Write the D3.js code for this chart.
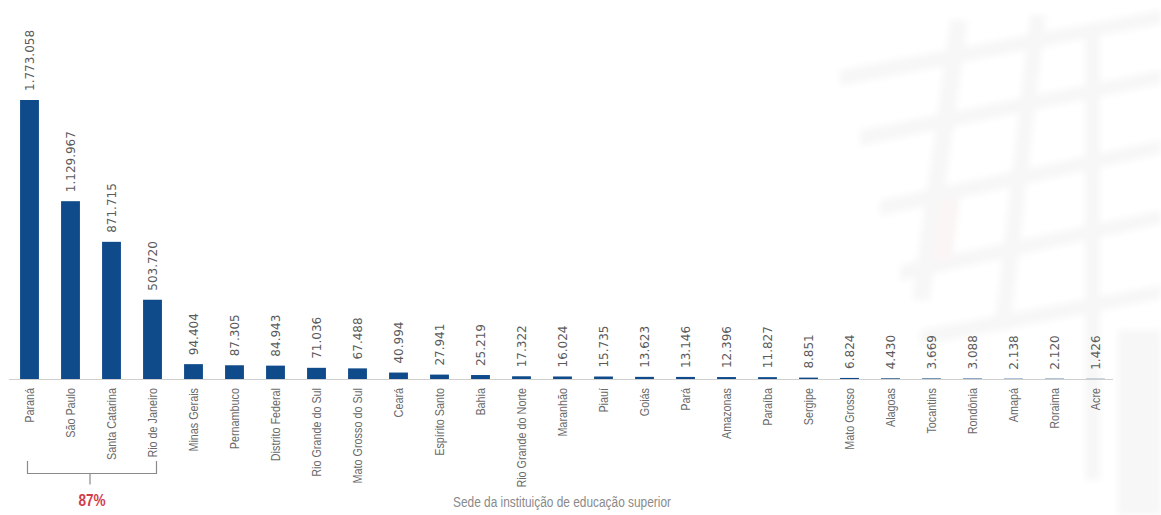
<!DOCTYPE html>
<html lang="pt-BR">
<head>
<meta charset="utf-8">
<script src="https://cdn.jsdelivr.net/npm/d3@7"></script>
<style>
  html, body { margin: 0; padding: 0; background: #ffffff; }
  svg { display: block; }
</style>
</head>
<body>
<svg id="chart" width="1161" height="515"></svg>
<script>
// Unidades da federação (sede da instituição), em ordem decrescente
const categories = [
  "Paraná", "São Paulo", "Santa Catarina", "Rio de Janeiro", "Minas Gerais",
  "Pernambuco", "Distrito Federal", "Rio Grande do Sul", "Mato Grosso do Sul",
  "Ceará", "Espírito Santo", "Bahia", "Rio Grande do Norte", "Maranhão",
  "Piauí", "Goiás", "Pará", "Amazonas", "Paraíba", "Sergipe", "Mato Grosso",
  "Alagoas", "Tocantins", "Rondônia", "Amapá", "Roraima", "Acre"
];
const values = [
  1773058, 1129967, 871715, 503720, 94404,
  87305, 84943, 71036, 67488,
  40994, 27941, 25219, 17322, 16024,
  15735, 13623, 13146, 12396, 11827, 8851, 6824,
  4430, 3669, 3088, 2138, 2120, 1426
];
// Estados agrupados pela chave
const bracketGroup = ["Paraná", "São Paulo", "Santa Catarina", "Rio de Janeiro"];
const axisTitle = "Sede da instituição de educação superior";

const data = categories.map((c, i) => ({ name: c, value: values[i] }));

const ptBR = d3.formatLocale({ decimal: ",", thousands: ".", grouping: [3], currency: ["R$", ""] });
const fmt = ptBR.format(",d");

const svg = d3.select("#chart");

// Marca d'água arquitetônica bem clara ao fundo, à direita
const defs = svg.append("defs");
defs.append("filter").attr("id", "soft")
  .append("feGaussianBlur").attr("stdDeviation", 3);
const deco = svg.append("g").attr("filter", "url(#soft)").attr("fill", "#f7f7f7");
const strips = [
  "M840,70 L1161,10 L1161,24 L840,86 Z",
  "M860,130 L1161,70 L1161,84 L860,146 Z",
  "M880,200 L1161,140 L1161,154 L880,216 Z",
  "M900,265 L1161,210 L1161,224 L900,281 Z",
  "M920,330 L1161,285 L1161,299 L920,346 Z",
  "M950,20 L968,20 L930,300 L912,300 Z",
  "M1030,15 L1046,15 L1010,330 L994,330 Z",
  "M1085,30 L1100,30 L1100,480 L1085,480 Z",
  "M1118,330 L1161,330 L1161,515 L1118,515 Z"
];
deco.selectAll("path").data(strips).join("path").attr("d", d => d);
deco.append("path").attr("d", "M940,200 L960,198 L952,260 L932,262 Z").attr("fill", "#fbf5f5");

const baseline = 379;
const x = d3.scaleBand()
  .domain(categories)
  .range([9, 1116])
  .paddingInner(0.54)
  .paddingOuter(0.27);
const y = d3.scaleLinear()
  .domain([0, d3.max(values)])
  .range([baseline, 100]);

// Linha de base
svg.append("line")
  .attr("x1", 9).attr("x2", 1113)
  .attr("y1", baseline + 0.5).attr("y2", baseline + 0.5)
  .attr("stroke", "#cfcfcf").attr("stroke-width", 1);

// Barras
svg.append("g").selectAll("rect")
  .data(data)
  .join("rect")
  .attr("x", d => x(d.name))
  .attr("width", x.bandwidth())
  .attr("y", d => y(d.value))
  .attr("height", d => baseline - y(d.value))
  .attr("fill", "#0f4a8a");

// Valores acima das barras
svg.append("g").selectAll("text")
  .data(data)
  .join("text")
  .attr("transform", d => `translate(${x(d.name) + x.bandwidth() / 2 + 4.5},${y(d.value) - 9}) rotate(-90)`)
  .attr("text-anchor", "start")
  .attr("font-family", "DejaVu Sans, sans-serif")
  .attr("font-size", 12)
  .attr("fill", "#5a5a5a")
  .text(d => fmt(d.value));

// Nomes das categorias (fonte condensada)
svg.append("g").selectAll("text")
  .data(data)
  .join("text")
  .attr("transform", d => `translate(${x(d.name) + x.bandwidth() / 2 + 4.5},${baseline + 9}) rotate(-90) scale(0.8,1)`)
  .attr("text-anchor", "end")
  .attr("font-family", "'Liberation Sans', Arial, sans-serif")
  .attr("font-size", 13.5)
  .attr("fill", "#6a6a6a")
  .text(d => d.name);

// Chave sob os quatro primeiros estados
const bx0 = x(bracketGroup[0]) + x.bandwidth() / 2 - 2;
const bx1 = x(bracketGroup[bracketGroup.length - 1]) + x.bandwidth() / 2 + 4;
const bTop = 461, bBot = 473.5, bMid = (bx0 + bx1) / 2 - 2;
svg.append("path")
  .attr("d", `M${bx0},${bTop} V${bBot} H${bx1} V${bTop} M${bMid},${bBot} V${bBot + 11}`)
  .attr("fill", "none")
  .attr("stroke", "#8a8a8a")
  .attr("stroke-width", 1.2);

const total = d3.sum(values);
const groupSum = d3.sum(data.filter(d => bracketGroup.includes(d.name)), d => d.value);
svg.append("text")
  .attr("transform", `translate(${bMid + 2},506) scale(0.85,1)`)
  .attr("text-anchor", "middle")
  .attr("font-family", "'Liberation Sans', Arial, sans-serif")
  .attr("font-size", 16)
  .attr("font-weight", "bold")
  .attr("fill", "#d13c4b")
  .text(Math.round(groupSum / total * 100) + "%");

// Título do eixo
svg.append("text")
  .attr("transform", "translate(562,507) scale(0.82,1)")
  .attr("text-anchor", "middle")
  .attr("font-family", "'Liberation Sans', Arial, sans-serif")
  .attr("font-size", 14.5)
  .attr("fill", "#8a8a8a")
  .text(axisTitle);
</script>
</body>
</html>
